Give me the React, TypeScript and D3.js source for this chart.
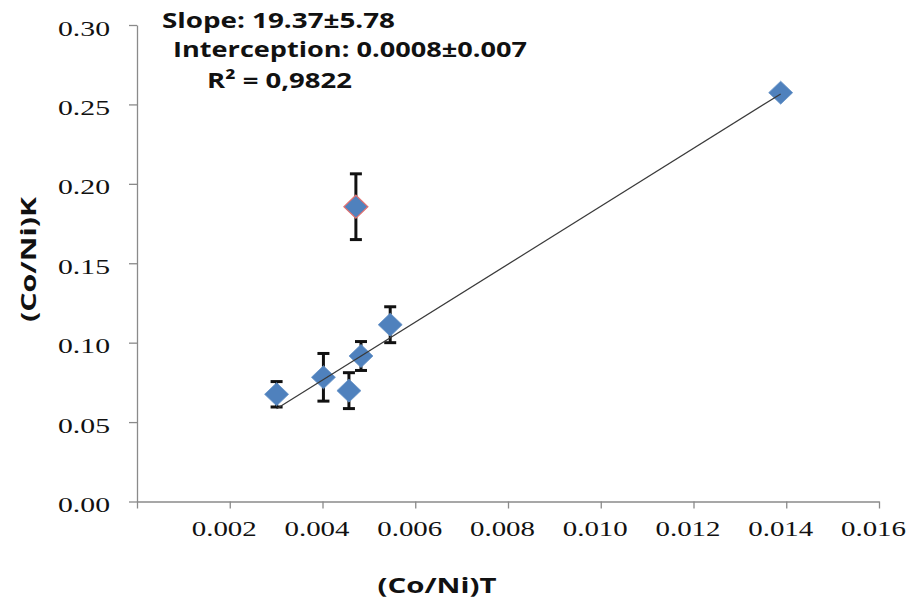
import React, { useEffect, useRef } from 'react';
import * as d3 from 'd3';

// measured (Co/Ni)T vs (Co/Ni)K
const ratioT = [0.00301, 0.00402, 0.00457, 0.00483, 0.00546, 0.01388];
const ratioK = [0.0675, 0.0782, 0.0698, 0.0916, 0.1113, 0.2574];
const errK = [0.008, 0.015, 0.0113, 0.0091, 0.0113, 0];

// rejected point, left out of the fit
const outlierT = [0.00472];
const outlierK = [0.1856];
const outlierErr = [0.0207];

const fitSlope = 18.24;
const fitIntercept = 0.00345;

const xTicks = [0, 0.002, 0.004, 0.006, 0.008, 0.01, 0.012, 0.014, 0.016];
const yTicks = [0, 0.05, 0.1, 0.15, 0.2, 0.25, 0.3];

const notes = ['Slope: 19.37±5.78', 'Interception: 0.0008±0.007', 'R² = 0,9822'];

function App() {
  const ref = useRef<SVGSVGElement>(null);

  useEffect(() => {
    const svg = d3.select(ref.current);
    svg.selectAll('*').remove();
    const width = 914;
    const height = 603;
    const margin = { top: 25, right: 35, bottom: 101.5, left: 137 };

    const x = d3
      .scaleLinear()
      .domain([0, 0.016])
      .range([margin.left, width - margin.right]);
    const y = d3
      .scaleLinear()
      .domain([0, 0.3])
      .range([height - margin.bottom, margin.top]);

    const axisColor = '#8a8a8a';
    const serif = '"Liberation Serif", "Times New Roman", serif';
    const sans = '"Open Sans", "Liberation Sans", sans-serif';

    // axes
    const gx = svg
      .append('g')
      .attr('transform', `translate(0,${y(0)})`)
      .call(
        d3
          .axisBottom(x)
          .tickValues(xTicks)
          .tickSize(7)
          .tickSizeOuter(0)
          .tickFormat(d => (d === 0 ? '' : d3.format('.3f')(d as number))),
      );
    const gy = svg
      .append('g')
      .attr('transform', `translate(${x(0)},0)`)
      .call(
        d3
          .axisLeft(y)
          .tickValues(yTicks)
          .tickSize(8)
          .tickSizeOuter(0)
          .tickFormat(d3.format('.2f')),
      );
    [gx, gy].forEach(g => {
      g.select('.domain').attr('stroke', axisColor).attr('stroke-width', 1.3);
      g.selectAll('.tick line').attr('stroke', axisColor).attr('stroke-width', 1.3);
      g.selectAll('.tick text')
        .attr('fill', '#111')
        .attr('font-family', serif)
        .attr('font-size', 21)
        .attr('dy', 0);
    });
    gx.selectAll('.tick text')
      .attr('y', 34)
      .attr('dx', -6)
      .attr('textLength', (d: any) => (d === 0 ? null : 65))
      .attr('lengthAdjust', 'spacingAndGlyphs');
    gy.selectAll('.tick text')
      .attr('x', -27)
      .attr('y', 10)
      .attr('textLength', 52)
      .attr('lengthAdjust', 'spacingAndGlyphs');

    const diamond = (cx: number, cy: number) =>
      `M${cx},${cy - 11.5}L${cx + 12},${cy}L${cx},${cy + 11.5}L${cx - 12},${cy}Z`;

    const drawErr = (xs: number[], ys: number[], es: number[]) => {
      xs.forEach((v, i) => {
        if (!es[i]) return;
        const cx = x(v);
        const top = y(ys[i] + es[i]);
        const bot = y(ys[i] - es[i]);
        const g = svg.append('g').attr('stroke', '#111').attr('stroke-width', 3);
        g.append('line').attr('x1', cx).attr('x2', cx).attr('y1', top).attr('y2', bot);
        g.append('line').attr('x1', cx - 6).attr('x2', cx + 6).attr('y1', top).attr('y2', top);
        g.append('line').attr('x1', cx - 6).attr('x2', cx + 6).attr('y1', bot).attr('y2', bot);
      });
    };
    drawErr(ratioT, ratioK, errK);
    drawErr(outlierT, outlierK, outlierErr);

    svg
      .append('g')
      .selectAll('path')
      .data(ratioT)
      .join('path')
      .attr('d', (d, i) => diamond(x(d), y(ratioK[i])))
      .attr('fill', '#4f81bd')
      .attr('stroke', '#6a95c9')
      .attr('stroke-width', 0.8);

    svg
      .append('g')
      .selectAll('path')
      .data(outlierT)
      .join('path')
      .attr('d', (d, i) => diamond(x(d), y(outlierK[i])))
      .attr('fill', '#4f81bd')
      .attr('stroke', '#e07070')
      .attr('stroke-width', 1.2);

    // linear fit over the range of the kept points
    const [xMin, xMax] = d3.extent(ratioT) as [number, number];
    const fit = d3
      .line<number>()
      .x(d => x(d))
      .y(d => y(fitSlope * d + fitIntercept));
    svg
      .append('path')
      .datum([xMin, xMax])
      .attr('d', fit)
      .attr('fill', 'none')
      .attr('stroke', '#3a3a3a')
      .attr('stroke-width', 1.2);

    // fit annotation
    const notePos = [
      [162, 28, 233],
      [173, 57, 354],
      [207, 88, 145],
    ];
    notes.forEach((t, i) => {
      svg
        .append('text')
        .attr('x', notePos[i][0])
        .attr('y', notePos[i][1])
        .attr('font-family', sans)
        .attr('font-weight', 700)
        .attr('font-size', 22)
        .attr('fill', '#111')
        .attr('textLength', notePos[i][2])
        .attr('lengthAdjust', 'spacingAndGlyphs')
        .text(t);
    });

    svg
      .append('text')
      .attr('x', 437)
      .attr('y', 593)
      .attr('text-anchor', 'middle')
      .attr('font-family', sans)
      .attr('font-weight', 700)
      .attr('font-size', 22)
      .attr('fill', '#111')
      .attr('textLength', 119)
      .attr('lengthAdjust', 'spacingAndGlyphs')
      .text('(Co/Ni)T');

    svg
      .append('text')
      .attr('transform', 'translate(36,259.5) rotate(-90)')
      .attr('text-anchor', 'middle')
      .attr('font-family', sans)
      .attr('font-weight', 700)
      .attr('font-size', 22)
      .attr('fill', '#111')
      .attr('textLength', 125)
      .attr('lengthAdjust', 'spacingAndGlyphs')
      .text('(Co/Ni)K');
  });

  return (
    <svg
      ref={ref}
      width={914}
      height={603}
      style={{ position: 'absolute', left: 0, top: 0, background: '#fff' }}
    />
  );
}

export default App;
